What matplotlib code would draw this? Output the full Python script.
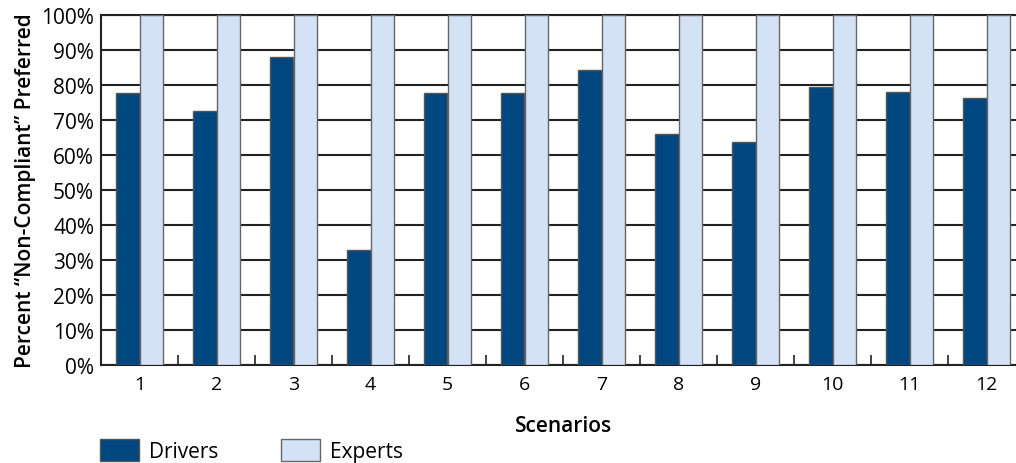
import matplotlib.pyplot as plt
import numpy as np
from matplotlib.patches import Patch

# data
scenarios = ['1', '2', '3', '4', '5', '6', '7', '8', '9', '10', '11', '12']
drivers = [77.6, 72.5, 88.1, 32.8, 77.7, 77.6, 84.4, 66.1, 63.8, 79.3, 78.1, 76.3]
experts = [100, 100, 100, 100, 100, 100, 100, 100, 100, 100, 100, 100]
yticks = [0, 10, 20, 30, 40, 50, 60, 70, 80, 90, 100]

dark = '#00477f'
light = '#d3e2f4'
font = 'Open Sans'

fig = plt.figure(figsize=(10.16, 4.64), dpi=100)
ax = fig.add_axes([101 / 1016, 98 / 464, 924 / 1016, 350 / 464])

x = np.arange(1, len(scenarios) + 1)
w = 0.3
ax.bar(x - w / 2, drivers, w, color=dark, edgecolor='#555555', linewidth=1.0, zorder=3)
ax.bar(x + w / 2, experts, w, color=light, edgecolor='#666666', linewidth=1.0, zorder=3)

ax.set_xlim(0.5, len(scenarios) + 0.5)
ax.set_ylim(0, 100)
ax.set_yticks(yticks)
ax.set_yticklabels([f'{v}%' for v in yticks], fontsize=15, family=font)
ax.set_xticks(x)
ax.set_xticklabels(scenarios, fontsize=14, family=font)
ax.set_xticks(np.arange(1.5, len(scenarios), 1), minor=True)
ax.tick_params(axis='x', which='major', length=0, pad=7)
ax.tick_params(axis='x', which='minor', direction='in', length=7, width=1.2, color='#222222')
ax.tick_params(axis='y', length=0, pad=5)

ax.yaxis.grid(True, color='#222222', linewidth=1.5, zorder=0)
ax.set_axisbelow(True)
for s in ['left', 'bottom', 'top']:
    ax.spines[s].set_color('#222222')
    ax.spines[s].set_linewidth(1.5)
ax.spines['right'].set_visible(False)

ax.set_ylabel('Percent \u201cNon-Compliant\u201d Preferred', fontsize=15, family=font,
              fontweight='semibold', labelpad=4)
ax.set_xlabel('Scenarios', fontsize=15, family=font, fontweight='semibold', labelpad=16)

handles = [Patch(facecolor=dark, edgecolor='#555555', label='Drivers'),
           Patch(facecolor=light, edgecolor='#666666', label='Experts')]
fig.legend(handles=handles, loc='lower left', bbox_to_anchor=(81 / 1016, -0.038), ncol=2,
           frameon=False, prop={'family': font, 'size': 15}, handlelength=1.9,
           handleheight=1.3, handletextpad=0.45, columnspacing=3.0)

plt.savefig('out.png', dpi=100)
